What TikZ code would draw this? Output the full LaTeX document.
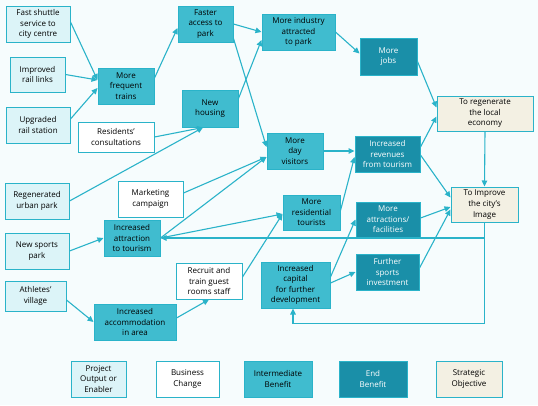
\documentclass[tikz,border=0pt]{standalone}
\usepackage{fontspec}
\setmainfont{Open Sans}
\usetikzlibrary{arrows.meta,calc}
\definecolor{bgc}{HTML}{F6FCFD}
\definecolor{edgec}{HTML}{2AB3C9}
\definecolor{lightc}{HTML}{DCF4F8}
\definecolor{midc}{HTML}{40BCCF}
\definecolor{endc}{HTML}{1A8FA8}
\definecolor{stratc}{HTML}{F3F0E3}
\tikzset{
  basebox/.style={draw=edgec, line width=1pt, align=center, inner sep=1pt,
    font=\fontsize{8}{10.6}\selectfont, text=black},
  lightbox/.style={basebox, fill=lightc},
  changebox/.style={basebox, fill=white},
  midbox/.style={basebox, fill=midc},
  endbox/.style={basebox, fill=endc, text=white},
  stratbox/.style={basebox, fill=stratc},
  conn/.style={draw=edgec, line width=1.1pt, -{Triangle[length=6pt,width=5.5pt]}},
  plain/.style={draw=edgec, line width=1.1pt}
}
\begin{document}
\begin{tikzpicture}[x=1pt,y=-1pt]
\fill[bgc] (0,0) rectangle (538,405);
\useasboundingbox (0,0) rectangle (538,405);
% nodes
\node[lightbox, minimum width=64pt, minimum height=36pt] (shuttle) at (38,24) {Fast shuttle\\service to\\city centre};
\node[lightbox, minimum width=55pt, minimum height=35pt] (rail) at (37.5,74.5) {Improved\\rail links};
\node[lightbox, minimum width=64pt, minimum height=36pt] (station) at (38,125) {Upgraded\\rail station};
\node[midbox, minimum width=56pt, minimum height=36pt] (trains) at (126,86) {More\\frequent\\trains};
\node[midbox, minimum width=55pt, minimum height=36pt] (faster) at (205.5,24) {Faster\\access to\\park};
\node[midbox, minimum width=56pt, minimum height=37pt] (housing) at (210,108.5) {New\\housing};
\node[changebox, minimum width=76pt, minimum height=30pt] (residents) at (116,137) {Residents'\\consultations};
\node[midbox, minimum width=73pt, minimum height=36pt] (industry) at (298.5,32) {More industry\\attracted\\to park};
\node[endbox, minimum width=57pt, minimum height=37pt] (jobs) at (388.5,56.5) {More\\jobs};
\node[stratbox, minimum width=96pt, minimum height=35pt] (regen) at (485,113.5) {To regenerate\\the local\\economy};
\node[midbox, minimum width=56pt, minimum height=36pt] (dayvis) at (295,151) {More\\day\\visitors};
\node[endbox, minimum width=65pt, minimum height=36pt] (revenues) at (387.5,154) {Increased\\revenues\\from tourism};
\node[stratbox, minimum width=67pt, minimum height=35pt] (image) at (484.5,204.5) {To Improve\\the city's\\Image};
\node[changebox, minimum width=65pt, minimum height=36pt] (marketing) at (150.5,199) {Marketing\\campaign};
\node[lightbox, minimum width=64pt, minimum height=36pt] (regpark) at (37,201) {Regenerated\\urban park};
\node[lightbox, minimum width=64pt, minimum height=36pt] (sportspark) at (37,251) {New sports\\park};
\node[midbox, minimum width=56pt, minimum height=36pt] (attraction) at (132,238) {Increased\\attraction\\to tourism};
\node[midbox, minimum width=57pt, minimum height=35pt] (restour) at (311.5,212.5) {More\\residential\\tourists};
\node[endbox, minimum width=64pt, minimum height=35pt] (attractions) at (388,219.5) {More\\attractions/\\facilities};
\node[changebox, minimum width=66pt, minimum height=36pt] (recruit) at (209,281) {Recruit and\\train guest\\rooms staff};
\node[lightbox, minimum width=61pt, minimum height=30pt] (athletes) at (35.5,296) {Athletes'\\village};
\node[midbox, minimum width=82pt, minimum height=36pt] (accom) at (135,322) {Increased\\accommodation\\in area};
\node[midbox, minimum width=69pt, minimum height=46pt] (capital) at (295.5,285) {Increased\\capital\\for further\\development};
\node[endbox, minimum width=63pt, minimum height=36pt] (sportsinv) at (387.5,272) {Further\\sports\\investment};
% legend
\node[lightbox, minimum width=55pt, minimum height=36pt] (lg1) at (98.5,379) {Project\\Output or\\Enabler};
\node[changebox, minimum width=63pt, minimum height=36pt] (lg2) at (187.5,379) {Business\\Change};
\node[midbox, minimum width=68pt, minimum height=36pt] (lg3) at (278,379) {Intermediate\\Benefit};
\node[endbox, minimum width=68pt, minimum height=36pt] (lg4) at (373,379) {End\\Benefit};
\node[stratbox, minimum width=66pt, minimum height=36pt] (lg5) at (469,379) {Strategic\\Objective};
% connectors
\draw[conn] ([yshift=2pt]shuttle.east) -- ([yshift=6pt]trains.west);
\draw[conn] (rail.east) -- ([yshift=6pt]trains.west);
\draw[conn] ([yshift=6pt]station.east) -- ([yshift=-2pt]trains.west);
\draw[conn] ([yshift=8pt]trains.east) -- ([yshift=-4pt]faster.west);
\draw[conn] (faster.east) -- (industry.west);
\draw[conn] ([yshift=4pt]faster.south east) -- ([yshift=4pt]dayvis.west);
\draw[conn] ([yshift=10pt]housing.east) -- ([yshift=-8pt]industry.west);
\draw[conn] (residents.east) -- ([xshift=-7pt]housing.south);
\draw[conn] (regpark.east) -- ([xshift=-7pt]housing.south);
\draw[conn] (industry.east) -- ([yshift=3pt]jobs.west);
\draw[conn] ([yshift=-5pt]jobs.east) -- ([yshift=6pt]regen.west);
\draw[conn] (dayvis.east) -- (dayvis.east -| revenues.west);
\draw[conn] ([yshift=7pt]revenues.east) -- ([yshift=-3pt]regen.west);
\draw[conn] ([yshift=-1pt]revenues.east) -- ([yshift=7pt]image.west);
\draw[conn] (regen.south) -- (image.north);
\draw[conn] ([yshift=1.5pt]attractions.east) -- ([yshift=-2.5pt]image.west);
\draw[conn] ([yshift=4pt]sportsinv.east) -- ([yshift=-5pt]image.west);
\draw[conn] ([yshift=6pt]marketing.east) -- ([yshift=-6pt]dayvis.west);
\draw[conn] (attraction.east) -- ([yshift=-6pt]dayvis.west);
\draw[conn] (attraction.east) -- ([yshift=-1.5pt]restour.west);
\draw[conn] ([yshift=4pt]recruit.east) -- ([yshift=-1.5pt]restour.west);
\draw[conn] ([yshift=4pt]accom.east) -- (recruit.south);
\draw[conn] ([yshift=-4pt]athletes.east) -- (accom.west);
\draw[conn] (sportspark.east) -- (attraction.west);
\draw[conn] ([yshift=2pt]restour.east) -- ([yshift=-3pt]revenues.west);
\draw[conn] ([yshift=8pt]capital.east) -- (attractions.west);
\draw[conn] ([yshift=2pt]capital.east) -- (sportsinv.west);
\draw[conn] (image.south) |- ([xshift=-2.5pt,yshift=-15pt]capital.south) -- ([xshift=-2.5pt]capital.south);
\draw[conn] (image.south |- attraction.east) -- (attraction.east);
\end{tikzpicture}
\end{document}
